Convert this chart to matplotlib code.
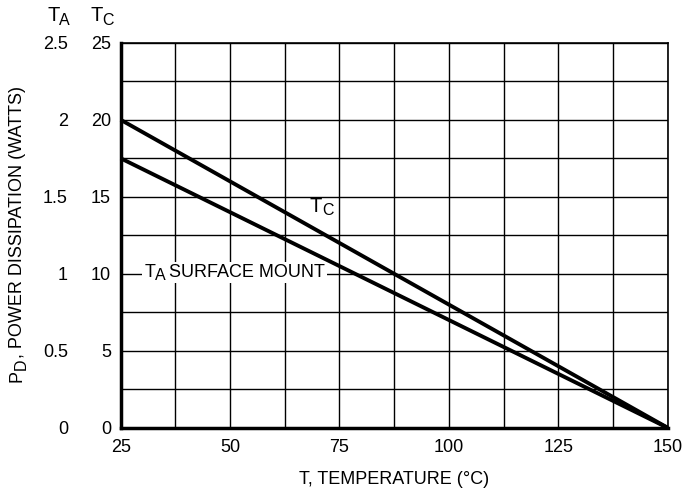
import numpy as np
import matplotlib
matplotlib.use("Agg")
import matplotlib.pyplot as plt

# ----------------------------------------
# data
# ----------------------------------------
temps = [25, 150]
tc_power = [20, 0]          # watts, case temperature
ta_power = [1.75, 0]        # watts, ambient, surface mount

x_ticks = [25, 50, 75, 100, 125, 150]
tc_ticks = [0, 5, 10, 15, 20, 25]
ta_ticks = [0, 0.5, 1, 1.5, 2, 2.5]
ta_tick_labels = ["0", "0.5", "1", "1.5", "2", "2.5"]

plt.rcParams['font.family'] = ['Liberation Sans Narrow', 'Liberation Sans', 'DejaVu Sans']
fs = 13
fs_sub = 11.5

fig = plt.figure(figsize=(6.82, 4.98), dpi=100)
ax = fig.add_axes([0.177, 0.141, 0.802, 0.773])

ax.set_xlim(25, 150)
ax.set_ylim(0, 25)
ax.set_xticks(x_ticks)
ax.set_xticks(np.arange(25, 150.1, 12.5), minor=True)
ax.set_yticks(tc_ticks)
ax.set_yticks(np.arange(0, 25.1, 2.5), minor=True)
ax.grid(True, which='both', color='black', linewidth=1.0)
ax.tick_params(which='both', length=0, labelsize=fs, pad=8)
ax.tick_params(axis='y', pad=7)
for s in ['top', 'right']:
	ax.spines[s].set_linewidth(1.2)
for s in ['left', 'bottom']:
	ax.spines[s].set_linewidth(2.5)

ax.plot(temps, tc_power, color='black', linewidth=2.8, solid_capstyle='butt', clip_on=False, zorder=3)

# second (ambient) scale on the outer left column
ax2 = ax.twinx()
ax2.set_ylim(0, 2.5)
ax2.yaxis.set_ticks_position('left')
ax2.spines['left'].set_position(('outward', 31))
for s in ['left', 'right', 'top', 'bottom']:
	ax2.spines[s].set_visible(False)
ax2.set_yticks(ta_ticks)
ax2.set_yticklabels(ta_tick_labels)
ax2.tick_params(length=0, labelsize=fs, pad=7)
ax2.plot(temps, ta_power, color='black', linewidth=2.8, solid_capstyle='butt', clip_on=False, zorder=3)


def sub_label(target, x, y, main, sub, rest="", size=fs, box=None, **kw):
	# big letter + big, dropped subscript (like the datasheet lettering)
	t1 = target.text(x, y, main, fontsize=size, ha='left', va='center', zorder=4, bbox=box, **kw)
	t2 = plt.Annotation(sub, xy=(1, 0), xycoords=t1, xytext=(0, -1.5), textcoords='offset points',
		fontsize=fs_sub, ha='left', va='bottom', zorder=4, bbox=box)
	target.add_artist(t2)
	if rest:
		t3 = plt.Annotation(rest, xy=(1, 0), xycoords=(t2, t1), xytext=(2, 0), textcoords='offset points',
			fontsize=size, ha='left', va='bottom', zorder=4, bbox=box)
		target.add_artist(t3)


# column headers
sub_label(fig, 0.069, 0.968, "T", "A", size=fs + 1.5)
sub_label(fig, 0.132, 0.968, "T", "C", size=fs + 1.5)

# curve labels
sub_label(ax, 68.2, 14.35, "T", "C", size=fs + 1.5)
white = dict(facecolor='white', edgecolor='none', pad=1.5)
sub_label(ax, 30.4, 10.1, "T", "A", rest="SURFACE MOUNT", box=white)

ax.set_xlabel("T, TEMPERATURE (°C)", fontsize=fs, labelpad=11)

# rotated y label with the dropped subscript
p1 = fig.text(0.025, 0.233, "P", fontsize=fs, rotation=90, ha='center', va='bottom')
p2 = fig.add_artist(plt.Annotation("D", xy=(1, 1), xycoords=p1, xytext=(2, 0), textcoords='offset points',
	fontsize=fs_sub, rotation=90, ha='right', va='bottom'))
fig.add_artist(plt.Annotation(", POWER DISSIPATION (WATTS)", xy=(1, 1), xycoords=(p1, p2),
	fontsize=fs, rotation=90, ha='right', va='bottom'))

fig.savefig("out.png", dpi=100)
